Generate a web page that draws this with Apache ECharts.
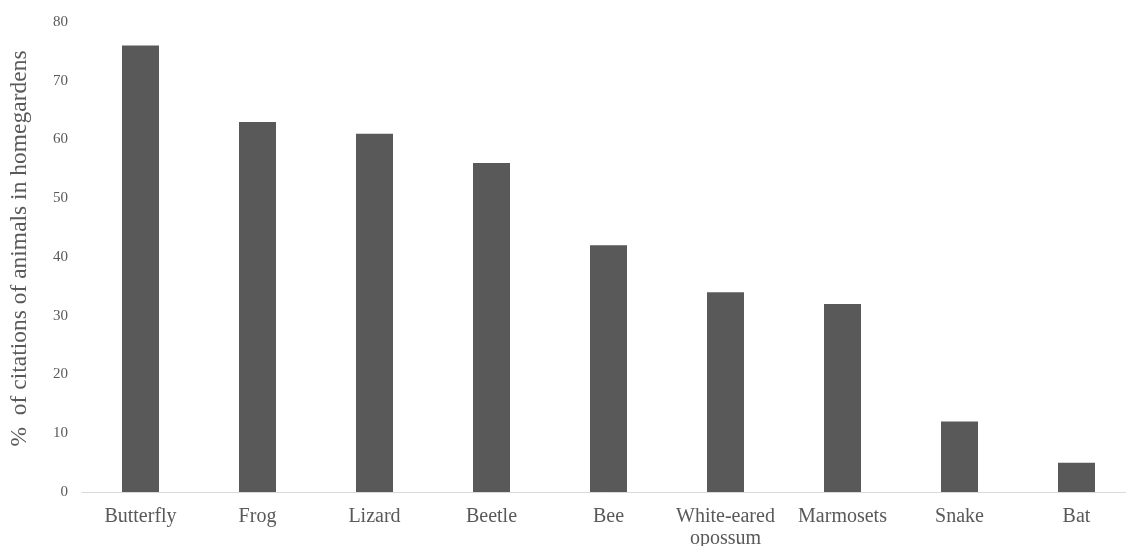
<!DOCTYPE html>
<html>
<head>
<meta charset="utf-8">
<script src="https://cdn.jsdelivr.net/npm/echarts@6/dist/echarts.min.js"></script>
<style>
  html, body { margin: 0; padding: 0; background: #ffffff; }
  #chart { width: 1126px; height: 546px; }
</style>
</head>
<body>
<div id="chart"></div>
<script>
// Animals cited in homegardens and their share of citations (%)
const categories = ['Butterfly', 'Frog', 'Lizard', 'Beetle', 'Bee', 'White-eared\nopossum', 'Marmosets', 'Snake', 'Bat'];
const citations = [76, 63, 61, 56, 42, 34, 32, 12, 5];
const yTicks = { min: 0, max: 80, interval: 10 };
const yTitle = '%  of citations of animals in homegardens';

const textColor = '#595959';
const serif = '"Liberation Serif", "DejaVu Serif", serif';

const chart = echarts.init(document.getElementById('chart'), null, { renderer: 'canvas' });
chart.setOption({
  animation: false,
  backgroundColor: '#ffffff',
  // plot area runs slightly past the right edge of the canvas
  grid: {
    left: 82, top: 22, height: 470, width: 1053,
    containLabel: false,
    outerBoundsMode: 'none'
  },
  xAxis: {
    type: 'category',
    data: categories,
    axisLine: { show: true, lineStyle: { color: '#d9d9d9', width: 1 } },
    axisTick: { show: false },
    axisLabel: {
      color: textColor,
      fontFamily: serif,
      fontSize: 20,
      lineHeight: 22,
      margin: 14,
      interval: 0
    }
  },
  yAxis: {
    type: 'value',
    min: yTicks.min,
    max: yTicks.max,
    interval: yTicks.interval,
    name: yTitle,
    nameLocation: 'middle',
    nameRotate: 90,
    nameGap: 50,
    nameTextStyle: {
      color: textColor,
      fontFamily: serif,
      fontSize: 23.5,
      padding: [0, 0, 0, 17]
    },
    axisLine: { show: false },
    axisTick: { show: false },
    splitLine: { show: false },
    axisLabel: { color: textColor, fontFamily: serif, fontSize: 15, margin: 14 }
  },
  series: [{
    type: 'bar',
    data: citations,
    barWidth: 37,
    itemStyle: { color: '#595959' }
  }]
});
</script>
</body>
</html>
